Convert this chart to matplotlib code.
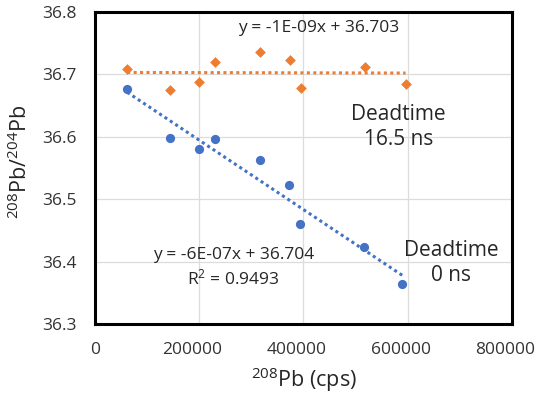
import numpy as np
import matplotlib
matplotlib.use("Agg")
import matplotlib.pyplot as plt
import matplotlib.transforms as mtransforms

plt.rcParams['font.family'] = ['Open Sans', 'DejaVu Sans']
plt.rcParams['mathtext.fontset'] = 'custom'
plt.rcParams['mathtext.rm'] = 'Open Sans'
plt.rcParams['mathtext.it'] = 'Open Sans:italic'

# 208Pb count rate (cps) and measured 208Pb/204Pb
x_16ns = [62000, 143500, 200400, 230200, 317100, 373800, 395600, 518700, 595900]
y_16ns = [36.708, 36.675, 36.688, 36.720, 36.735, 36.723, 36.678, 36.712, 36.684]

x_0ns = [62000, 143500, 199600, 230200, 317100, 371800, 393000, 515600, 589700]
y_0ns = [36.676, 36.598, 36.580, 36.596, 36.563, 36.522, 36.460, 36.423, 36.364]

x_ticks = [0, 200000, 400000, 600000, 800000]
y_ticks = [36.3, 36.4, 36.5, 36.6, 36.7, 36.8]

orange = '#ED7D31'
blue = '#4472C4'
txt = '#262626'

fig = plt.figure(figsize=(5.39, 3.97), dpi=100)
ax = fig.add_axes([0.176, 0.184, 0.774, 0.786])

ax.scatter(x_16ns, y_16ns, marker='D', s=30, color=orange, lw=0, zorder=3)
ax.scatter(x_0ns, y_0ns, marker='o', s=44, color=blue, lw=0, zorder=3)

# linear trendlines, like the spreadsheet ones
for xs, ys, c in [(x_16ns, y_16ns, orange), (x_0ns, y_0ns, blue)]:
    k, b = np.polyfit(xs, ys, 1)
    xx = np.array([min(xs), max(xs)])
    ax.plot(xx, k * xx + b, linestyle=(0, (1, 1.1)), color=c, lw=2.2, zorder=2)

ax.set_xlim(0, 800000)
ax.set_ylim(36.3, 36.8)
ax.set_xticks(x_ticks)
ax.set_yticks(y_ticks)
ax.set_xticklabels([str(v) for v in x_ticks])
ax.set_yticklabels([f'{v:.1f}' for v in y_ticks])
ax.tick_params(length=0, labelsize=12.5, colors='#333333')
ax.tick_params(axis='x', pad=13)
ax.tick_params(axis='y', pad=13)
ax.grid(True, color='#dcdcdc', lw=0.9)
ax.set_axisbelow(True)
for s in ax.spines.values():
    s.set_linewidth(2.2)
    s.set_color('black')

# the big x labels sit a little left of their ticks, so 800000 stays inside
shift = mtransforms.ScaledTranslation(-7 / 100, 0, fig.dpi_scale_trans)
for lab in ax.get_xticklabels()[1:]:
    lab.set_transform(lab.get_transform() + shift)

ax.set_xlabel('$^{208}$Pb (cps)', fontsize=15.5, color=txt)
ax.set_ylabel('$^{208}$Pb/$^{204}$Pb', fontsize=15.5, color=txt)
ax.xaxis.label.set_va('center')
ax.yaxis.label.set_ha('center')
ax.yaxis.label.set_va('center')
ax.xaxis.set_label_coords(0.5, -0.18)
ax.yaxis.set_label_coords(-0.18, 0.52)

ax.text(430000, 36.774, 'y = -1E-09x + 36.703', fontsize=12.5, color=txt,
        ha='center', va='center')
ax.text(582000, 36.616, 'Deadtime\n16.5 ns', fontsize=15, color=txt,
        ha='center', va='center', linespacing=1.25)
ax.text(266000, 36.390, 'y = -6E-07x + 36.704\nR$^2$ = 0.9493', fontsize=12.5,
        color=txt, ha='center', va='center', linespacing=1.3)
ax.text(683000, 36.397, 'Deadtime\n0 ns', fontsize=15, color=txt,
        ha='center', va='center', linespacing=1.25)

fig.savefig('out.png', dpi=100)
